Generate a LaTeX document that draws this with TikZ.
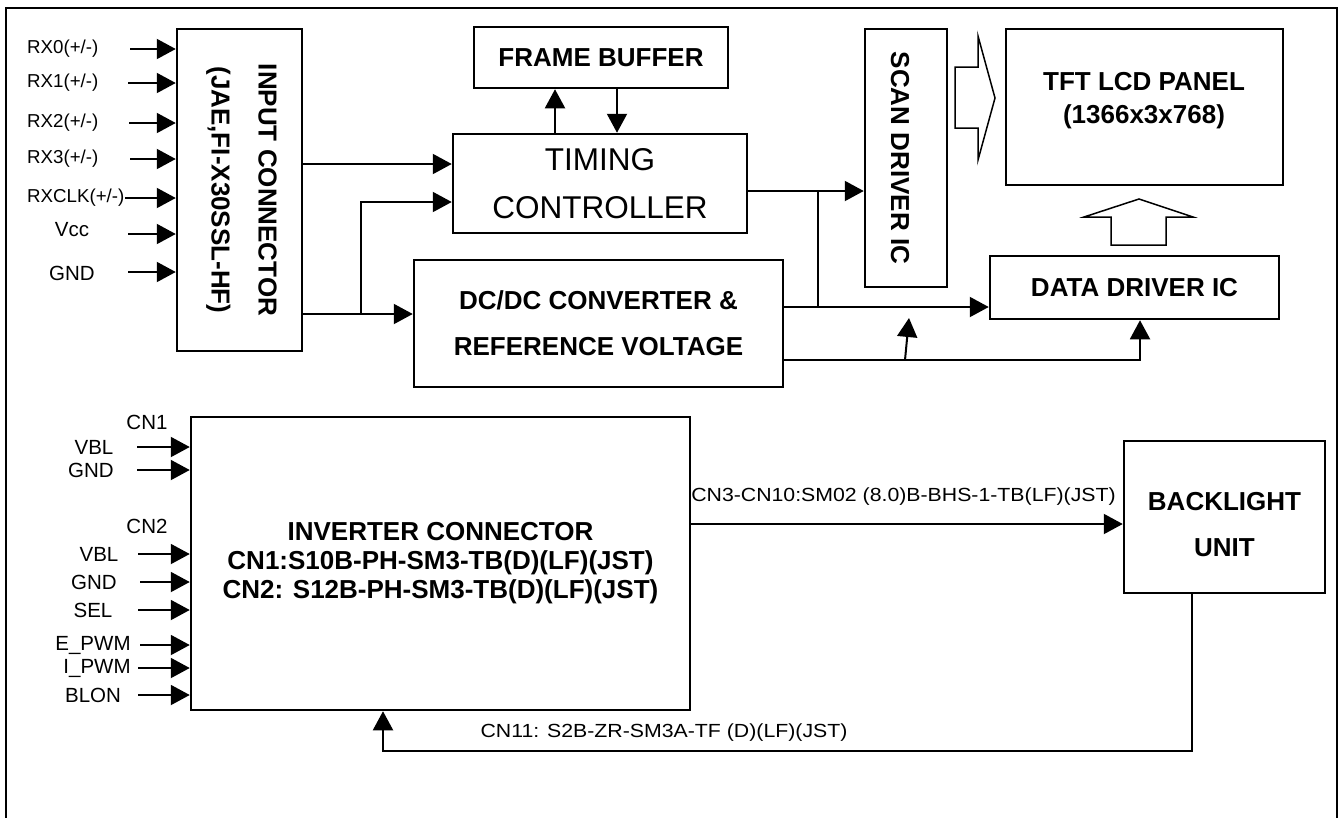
\documentclass[tikz,border=0pt]{standalone}
\usepackage{fontspec}
\setmainfont{Liberation Sans}
\usepackage{graphicx}
\usetikzlibrary{arrows.meta}
\tikzset{
  box/.style={draw, line width=2.5pt, inner sep=0pt},
  arr/.style={line width=2pt, -{Triangle[length=19pt,width=20pt]}},
  hollow/.style={line width=1.5pt, line join=miter},
  sig/.style={font=\fontsize{20.5}{22}\selectfont},
  rx/.style={font=\fontsize{18.7}{21}\selectfont, anchor=west, inner sep=0pt},
  hdr/.style={font=\fontsize{26}{46}\selectfont\bfseries, align=center},
  cable/.style={font=\fontsize{19}{21}\selectfont}
}
\begin{document}
\begin{tikzpicture}[x=1pt, y=-1pt]
\useasboundingbox (0,0) rectangle (1340,817);
\draw[line width=2pt] (6,818) -- (6,8) -- (1337,8) -- (1337,818);
% blocks
\node[box, minimum width=125pt, minimum height=322pt] (incon) at (239.5,190) {};
\node[hdr, rotate=-90, font=\fontsize{26}{47}\selectfont\bfseries] at (241.5,190) {INPUT CONNECTOR\\(JAE,FI-X30SSL-HF)};
\node[box, hdr, minimum width=254pt, minimum height=61pt] (fbuf) at (601,57.5) {FRAME BUFFER};
\node[box, minimum width=294pt, minimum height=99pt, align=center, font=\fontsize{31.5}{48}\selectfont] (tcon) at (600,183.5) {TIMING\\CONTROLLER};
\node[box, hdr, minimum width=369pt, minimum height=127pt] (dcdc) at (598.5,323.5) {DC/DC CONVERTER \&\\REFERENCE VOLTAGE};
\node[box, minimum width=82pt, minimum height=258pt] (scan) at (906,158) {};
\node[hdr, rotate=-90] at (900,158) {SCAN DRIVER IC};
\node[box, minimum width=277pt, minimum height=156pt] (panel) at (1144.5,107) {};
\node[hdr, font=\fontsize{26}{33}\selectfont\bfseries] at (1144,101) {TFT LCD PANEL\\(1366x3x768)};
\node[box, hdr, minimum width=289pt, minimum height=63pt] (ddrv) at (1134.5,287.5) {DATA DRIVER IC};
\node[box, minimum width=499pt, minimum height=293pt, align=center, font=\fontsize{26}{29}\selectfont\bfseries] (inv) at (440.5,563.5) {INVERTER CONNECTOR\\CN1:S10B-PH-SM3-TB(D)(LF)(JST)\\CN2: S12B-PH-SM3-TB(D)(LF)(JST)};
\node[box, minimum width=201pt, minimum height=152pt] (blu) at (1224.5,517) {};
\node[hdr] at (1224.5,525) {BACKLIGHT\\UNIT};
% lvds inputs
\foreach \y/\s/\t in {49/130/{RX0(+/-)}, 83/128/{RX1(+/-)}, 123/129/{RX2(+/-)}, 159/130/{RX3(+/-)}, 198/125/{RXCLK(+/-)}}
  {\draw[arr] (\s,\y) -- (incon.west |- 0,\y);
   \node[rx] at (27,\y) {\t};};
\foreach \y/\l/\t in {234/230/Vcc, 272/273/GND}
  {\draw[arr] (128,\y) -- (incon.west |- 0,\y);
   \node[sig] at (72,\l) {\t};};
% inverter inputs
\node[sig] at (147,422) {CN1};
\node[sig] at (147,526) {CN2};
\foreach \y/\s/\c/\t in {447/137/94/VBL, 470/137/91/GND, 554/138/99/VBL, 582/140/94/GND, 610/138/93/SEL, 645/140/93/E\_PWM, 668/138/97/I\_PWM, 695/138/93/BLON}
  {\draw[arr] (\s,\y) -- (inv.west |- 0,\y);
   \node[sig] at (\c,\y) {\t};};
% connections
\coordinate (j1) at (361,314);
\coordinate (j2) at (818,191);
\coordinate (j3) at (818,307);
\coordinate (k) at (909,318);
\draw[arr] (incon.east |- 0,164) -- (tcon.west |- 0,164);
\draw[arr] (incon.east |- j1) -- (dcdc.west |- j1);
\draw[arr] (j1) |- (tcon.west |- 0,202);
\draw[arr] (tcon.north -| 555,0) -- (fbuf.south -| 555,0);
\draw[arr] (fbuf.south -| 617,0) -- (tcon.north -| 617,0);
\draw[arr] (tcon.east |- j2) -- (scan.west |- j2);
\draw[line width=2pt] (j2) -- (j3);
\draw[arr] (dcdc.east |- j3) -- (ddrv.west |- j3);
\draw[arr] (dcdc.east |- 0,360) -| (ddrv.south -| 1140,0);
\draw[arr] (905,360) -- (k);
\draw[hollow] (955,67) -- (978,67) -- (978,36) -- (995,98) -- (978,160) -- (978,128) -- (955,128) -- cycle;
\draw[hollow] (1111,245) -- (1111,217) -- (1084,217) -- (1139,199) -- (1193,217) -- (1166,217) -- (1166,245) -- cycle;
\draw[arr] (inv.east |- 0,524) -- (blu.west |- 0,524);
\node[cable] at (903.5,497) {\scalebox{1.12}[1]{CN3-CN10:SM02 (8.0)B-BHS-1-TB(LF)(JST)}};
\draw[arr] (blu.south -| 1192,0) |- (383,751) -- (inv.south -| 383,0);
\node[cable] at (664,733) {\scalebox{1.12}[1]{CN11: S2B-ZR-SM3A-TF (D)(LF)(JST)}};
\end{tikzpicture}
\end{document}
